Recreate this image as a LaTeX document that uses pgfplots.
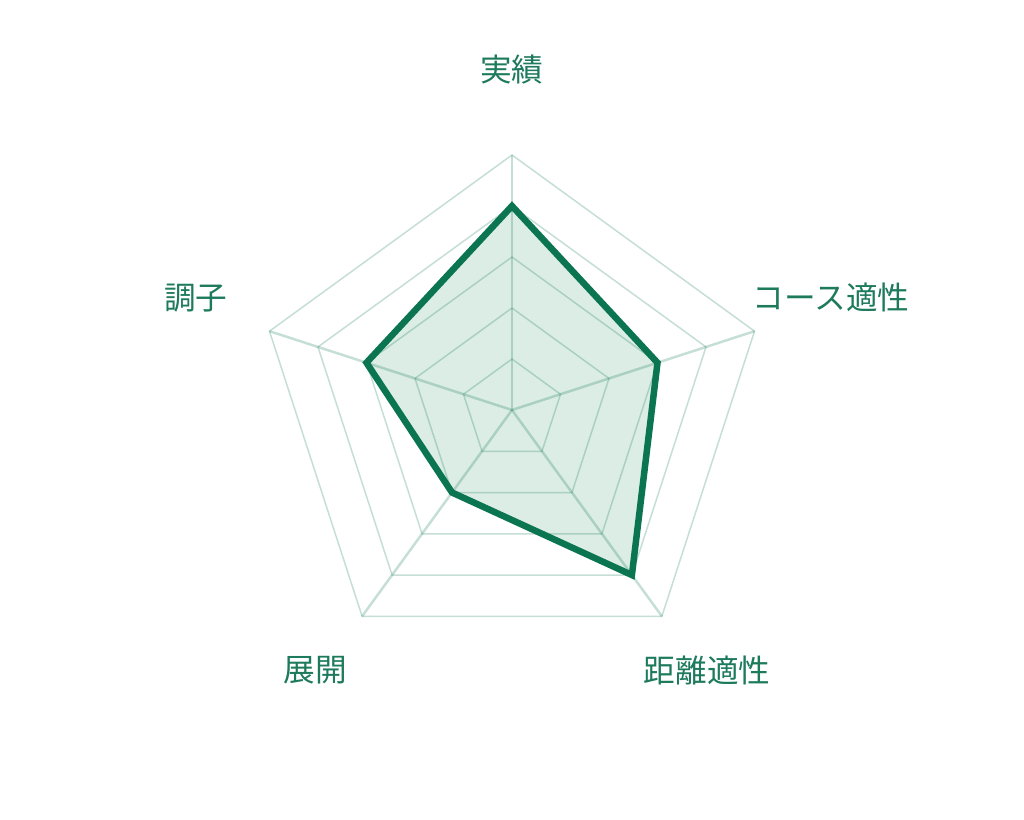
\documentclass[border=0pt]{standalone}
\usepackage{pgfplots}
\pgfplotsset{compat=1.18}
\usepgfplotslibrary{polar}
\usepackage{fontspec}
\setmainfont{Noto Sans CJK JP}
\definecolor{linegreen}{HTML}{0B7552}
\definecolor{textgreen}{HTML}{1E7A5C}
\definecolor{fillgreen}{HTML}{DCEDE6}
\tikzset{lbl/.style={text=textgreen, font=\fontsize{18}{21}\selectfont}}
\begin{document}
\begin{tikzpicture}
\path[use as bounding box] (-10.24cm,-8.2cm) rectangle (10.24cm,8.2cm);
\begin{polaraxis}[
    at={(0,0)}, anchor=origin,
    hide axis,
    width=10.2cm, height=10.2cm, scale only axis,
    ymin=0, ymax=5,
    clip=false,
]
% filled area under the grid
\addplot[draw=none, fill=fillgreen]
  coordinates {(90,4) (18,3) (-54,4) (-126,2) (162,3) (90,4)} -- cycle;
% pentagon grid
\foreach \r in {1,2,3,4,5} {
  \edef\tmp{\noexpand\addplot[linegreen, opacity=0.24, line width=0.85pt] coordinates {(90,\r) (18,\r) (-54,\r) (-126,\r) (162,\r) (90,\r)};}
  \tmp
}
% spokes
\addplot[linegreen, opacity=0.24, line width=1.4pt] coordinates {(90,0) (90,5)};
\addplot[linegreen, opacity=0.24, line width=1.4pt] coordinates {(18,0) (18,5)};
\addplot[linegreen, opacity=0.24, line width=1.4pt] coordinates {(-54,0) (-54,5)};
\addplot[linegreen, opacity=0.24, line width=1.4pt] coordinates {(-126,0) (-126,5)};
\addplot[linegreen, opacity=0.24, line width=1.4pt] coordinates {(162,0) (162,5)};
% data outline
\addplot[linegreen, line width=3.7pt, line join=miter]
  coordinates {(90,4) (18,3) (-54,4) (-126,2) (162,3) (90,4)} -- cycle;
% labels
\node[lbl] at (axis cs:90,6.667) {実績};
\node[lbl] at (axis cs:19.5,6.635) {コース適性};
\node[lbl] at (axis cs:-53.13,6.373) {距離適性};
\node[lbl] at (axis cs:-127.15,6.396) {展開};
\node[lbl] at (axis cs:160.5,6.574) {調子};
\end{polaraxis}
\end{tikzpicture}
\end{document}
